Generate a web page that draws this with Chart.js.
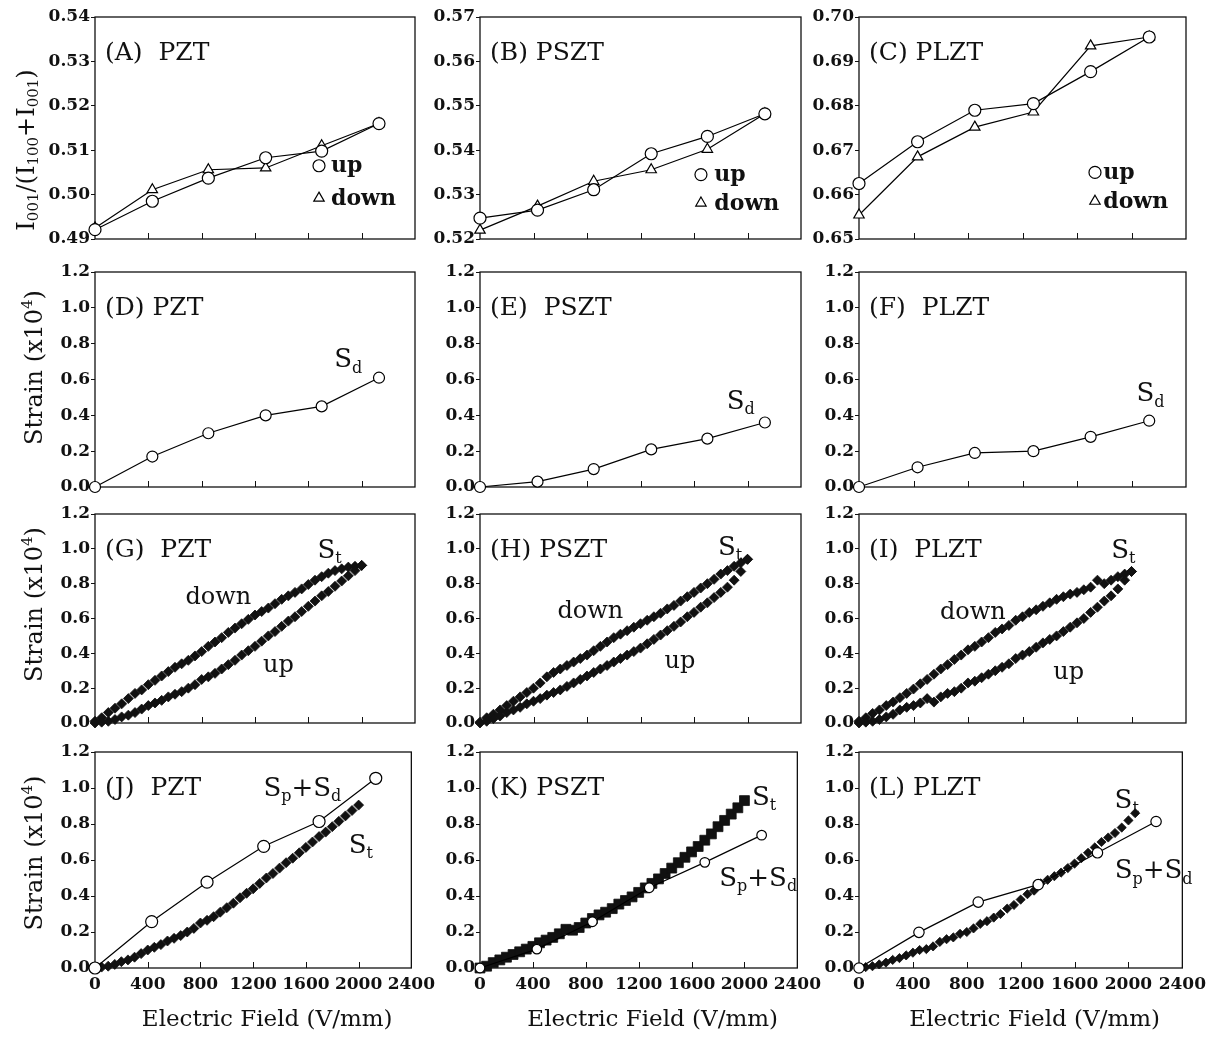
<!DOCTYPE html>
<html>
<head>
<meta charset="utf-8">
<script src="https://cdn.jsdelivr.net/npm/chart.js@4.4.1/dist/chart.umd.min.js"></script>
<style>
  html, body { margin: 0; padding: 0; background: #fff; }
  body { width: 1211px; height: 1043px; position: relative; overflow: hidden; }
  canvas { position: absolute; }
</style>
</head>
<body>
<script>
const SERIF = '"DejaVu Serif", "Liberation Serif", serif';

// ── Electric field values (V/mm) ─────────────────────────────────────────────
const FIELD   = [0, 430, 850, 1280, 1700, 2130];
const FIELD_L = [0, 445, 885, 1330, 1770, 2205];
const STEP_X = [0, 50, 100, 150, 200, 250, 300, 350, 400, 450,
                500, 550, 600, 650, 700, 750, 800, 850, 900, 950,
                1000, 1050, 1100, 1150, 1200, 1250, 1300, 1350, 1400, 1450,
                1500, 1550, 1600, 1650, 1700, 1750, 1800, 1850, 1900, 1950,
                2000];
const STEP_X_L = [0, 50, 100, 150, 200, 250, 300, 350, 400, 450,
                  500, 550, 600, 650, 700, 750, 800, 850, 900, 950,
                  1000, 1050, 1100, 1150, 1200, 1250, 1300, 1350, 1400, 1450,
                  1500, 1550, 1600, 1650, 1700, 1750, 1800, 1850, 1900, 1950,
                  2000, 2050];

// ── Row 1: I001/(I100+I001) ──────────────────────────────────────────────────
const A_UP   = [0.4921, 0.4985, 0.5037, 0.5083, 0.5098, 0.5160];
const A_DOWN = [0.4925, 0.5011, 0.5056, 0.5060, 0.5110, 0.5160];
const B_UP   = [0.5247, 0.5265, 0.5311, 0.5392, 0.5431, 0.5482];
const B_DOWN = [0.5220, 0.5274, 0.5330, 0.5356, 0.5402, 0.5482];
const C_UP   = [0.6625, 0.6719, 0.6790, 0.6805, 0.6877, 0.6955];
const C_DOWN = [0.6554, 0.6685, 0.6752, 0.6786, 0.6935, 0.6955];

// ── Row 2: domain strain S_d ─────────────────────────────────────────────────
const D_SD = [0, 0.17, 0.30, 0.40, 0.45, 0.61];
const E_SD = [0, 0.03, 0.10, 0.21, 0.27, 0.36];
const F_SD = [0, 0.11, 0.19, 0.20, 0.28, 0.37];

// ── Row 3: total strain loops S_t ────────────────────────────────────────────
const G_UP = [0.000, 0.005, 0.010, 0.020, 0.035, 0.045, 0.060, 0.080, 0.100, 0.115,
              0.130, 0.150, 0.165, 0.180, 0.200, 0.220, 0.250, 0.265, 0.285, 0.310,
              0.335, 0.360, 0.390, 0.415, 0.440, 0.470, 0.500, 0.525, 0.555, 0.585,
              0.610, 0.640, 0.670, 0.700, 0.730, 0.755, 0.785, 0.815, 0.845, 0.875,
              0.905];
const G_DOWN = [0.010, 0.030, 0.060, 0.085, 0.110, 0.140, 0.170, 0.190, 0.220, 0.245,
                0.270, 0.295, 0.320, 0.340, 0.360, 0.385, 0.410, 0.440, 0.465, 0.490,
                0.520, 0.545, 0.570, 0.595, 0.620, 0.640, 0.660, 0.685, 0.710, 0.730,
                0.750, 0.770, 0.795, 0.820, 0.840, 0.860, 0.875, 0.885, 0.895, 0.900,
                0.905];
const H_UP = [0.000, 0.010, 0.025, 0.040, 0.060, 0.075, 0.090, 0.110, 0.125, 0.140,
              0.160, 0.175, 0.190, 0.210, 0.230, 0.250, 0.270, 0.290, 0.310, 0.330,
              0.350, 0.370, 0.390, 0.410, 0.430, 0.455, 0.480, 0.505, 0.530, 0.555,
              0.580, 0.610, 0.635, 0.665, 0.690, 0.720, 0.750, 0.780, 0.820, 0.870,
              0.940];
const H_DOWN = [0.005, 0.030, 0.050, 0.075, 0.100, 0.125, 0.150, 0.175, 0.200, 0.230,
                0.265, 0.290, 0.310, 0.330, 0.350, 0.370, 0.390, 0.415, 0.440, 0.465,
                0.490, 0.510, 0.530, 0.550, 0.570, 0.590, 0.610, 0.630, 0.655, 0.675,
                0.700, 0.725, 0.750, 0.775, 0.800, 0.825, 0.855, 0.875, 0.900, 0.920,
                0.940];
const I_UP = [0.000, 0.005, 0.010, 0.020, 0.035, 0.050, 0.075, 0.090, 0.100, 0.115,
              0.140, 0.120, 0.150, 0.170, 0.180, 0.200, 0.230, 0.240, 0.260, 0.280,
              0.300, 0.320, 0.340, 0.370, 0.390, 0.410, 0.435, 0.460, 0.480, 0.500,
              0.525, 0.550, 0.575, 0.600, 0.635, 0.665, 0.700, 0.730, 0.770, 0.820,
              0.870];
const I_DOWN = [0.010, 0.030, 0.055, 0.075, 0.100, 0.120, 0.145, 0.170, 0.195, 0.225,
                0.250, 0.280, 0.310, 0.335, 0.365, 0.390, 0.420, 0.440, 0.465, 0.490,
                0.520, 0.540, 0.560, 0.590, 0.610, 0.635, 0.650, 0.670, 0.690, 0.710,
                0.725, 0.740, 0.750, 0.765, 0.780, 0.820, 0.800, 0.820, 0.840, 0.855,
                0.870];

// ── Row 4: S_p+S_d compared with S_t ─────────────────────────────────────────
const J_SPSD = [0, 0.258, 0.477, 0.676, 0.814, 1.054];
const K_SPSD = [0, 0.105, 0.257, 0.446, 0.587, 0.738];
const L_SPSD = [0, 0.198, 0.366, 0.463, 0.640, 0.814];
const K_ST = [0.000, 0.010, 0.030, 0.045, 0.060, 0.075, 0.090, 0.105, 0.120, 0.140,
              0.155, 0.170, 0.190, 0.215, 0.210, 0.225, 0.250, 0.275, 0.295, 0.310,
              0.330, 0.355, 0.375, 0.395, 0.420, 0.445, 0.470, 0.495, 0.525, 0.555,
              0.585, 0.615, 0.645, 0.675, 0.710, 0.745, 0.785, 0.820, 0.855, 0.890,
              0.930];
const L_ST = [0.000, 0.005, 0.010, 0.020, 0.030, 0.045, 0.055, 0.070, 0.085, 0.100,
              0.105, 0.120, 0.145, 0.160, 0.170, 0.190, 0.200, 0.220, 0.245, 0.260,
              0.280, 0.300, 0.330, 0.350, 0.380, 0.410, 0.430, 0.470, 0.490, 0.510,
              0.530, 0.555, 0.580, 0.610, 0.640, 0.670, 0.700, 0.725, 0.750, 0.780,
              0.820, 0.860];

// ── Layout (page pixels) ─────────────────────────────────────────────────────
const COLS = [
  { canvasLeft: 0,   plotLeft: 95,  plotRight: 415 },
  { canvasLeft: 420, plotLeft: 480, plotRight: 801 },
  { canvasLeft: 800, plotLeft: 859, plotRight: 1186 },
];
const ROWS = [
  { top: 17,  bottom: 239, hx: 12 },
  { top: 272, bottom: 487, hx: 12 },
  { top: 514, bottom: 723, hx: 12 },
  { top: 752, bottom: 968, hx: 66 },
];
const PAD_TOP = 12, PAD_RIGHT = 26;
const Y_TITLE_SHIFT = [22, -12, -14, -7];

// ── Series helpers ───────────────────────────────────────────────────────────
function pts(xs, ys) { return xs.map((x, i) => ({ x, y: ys[i] })); }

function openSeries(xs, ys, style, r) {
  return {
    data: pts(xs, ys), showLine: true, borderColor: '#000', borderWidth: 1.2,
    pointStyle: style, pointRadius: r, pointBackgroundColor: '#fff',
    pointBorderColor: '#000', pointBorderWidth: 1.2, clip: false,
  };
}
function solidSeries(xs, ys, style, r) {
  return {
    data: pts(xs, ys), showLine: false, pointStyle: style, pointRadius: r,
    pointBackgroundColor: '#111', pointBorderColor: '#111', pointBorderWidth: 0.8, clip: false,
  };
}

const SD    = [['S'], ['d', 'sub']];
const ST    = [['S'], ['t', 'sub']];
const SPSD  = [['S'], ['p', 'sub'], ['+S'], ['d', 'sub']];

// ── Panels ───────────────────────────────────────────────────────────────────
const PANELS = [
  { col: 0, row: 0, tag: '(A)  PZT', y: [0.49, 0.54, 0.01, 2],
    sets: [openSeries(FIELD, A_UP, 'circle', 6), openSeries(FIELD, A_DOWN, 'triangle', 6)],
    legend: { x: 1680, yUp: 0.5065, yDown: 0.4992, tx: 1770 } },
  { col: 1, row: 0, tag: '(B) PSZT', y: [0.52, 0.57, 0.01, 2],
    sets: [openSeries(FIELD, B_UP, 'circle', 6), openSeries(FIELD, B_DOWN, 'triangle', 6)],
    legend: { x: 1652, yUp: 0.5345, yDown: 0.5281, tx: 1752 } },
  { col: 2, row: 0, tag: '(C) PLZT', y: [0.65, 0.70, 0.01, 2],
    sets: [openSeries(FIELD, C_UP, 'circle', 6), openSeries(FIELD, C_DOWN, 'triangle', 6)],
    legend: { x: 1732, yUp: 0.665, yDown: 0.6585, tx: 1793 } },

  { col: 0, row: 1, tag: '(D) PZT', y: [0, 1.2, 0.2, 1],
    sets: [openSeries(FIELD, D_SD, 'circle', 5.5)],
    notes: [{ parts: SD, x: 1900, y: 0.72 }] },
  { col: 1, row: 1, tag: '(E)  PSZT', y: [0, 1.2, 0.2, 1],
    sets: [openSeries(FIELD, E_SD, 'circle', 5.5)],
    notes: [{ parts: SD, x: 1950, y: 0.49 }] },
  { col: 2, row: 1, tag: '(F)  PLZT', y: [0, 1.2, 0.2, 1],
    sets: [openSeries(FIELD, F_SD, 'circle', 5.5)],
    notes: [{ parts: SD, x: 2140, y: 0.53 }] },

  { col: 0, row: 2, tag: '(G)  PZT', y: [0, 1.2, 0.2, 1],
    sets: [solidSeries(STEP_X, G_UP, 'rectRot', 5), solidSeries(STEP_X, G_DOWN, 'rectRot', 5)],
    notes: [{ parts: ST, x: 1760, y: 1.0 },
            { parts: [['down']], x: 925, y: 0.73 }, { parts: [['up']], x: 1375, y: 0.34 }] },
  { col: 1, row: 2, tag: '(H) PSZT', y: [0, 1.2, 0.2, 1],
    sets: [solidSeries(STEP_X, H_UP, 'rectRot', 5), solidSeries(STEP_X, H_DOWN, 'rectRot', 5)],
    notes: [{ parts: ST, x: 1870, y: 1.02 },
            { parts: [['down']], x: 825, y: 0.655 }, { parts: [['up']], x: 1495, y: 0.367 }] },
  { col: 2, row: 2, tag: '(I)  PLZT', y: [0, 1.2, 0.2, 1],
    sets: [solidSeries(STEP_X, I_UP, 'rectRot', 5), solidSeries(STEP_X, I_DOWN, 'rectRot', 5)],
    notes: [{ parts: ST, x: 1940, y: 1.0 },
            { parts: [['down']], x: 836, y: 0.648 }, { parts: [['up']], x: 1539, y: 0.30 }] },

  { col: 0, row: 3, tag: '(J)  PZT', y: [0, 1.2, 0.2, 1],
    sets: [openSeries(FIELD, J_SPSD, 'circle', 6), solidSeries(STEP_X, G_UP, 'rectRot', 5)],
    notes: [{ parts: SPSD, x: 1573, y: 1.01 }, { parts: ST, x: 2017, y: 0.69 }] },
  { col: 1, row: 3, tag: '(K) PSZT', y: [0, 1.2, 0.2, 1],
    sets: [openSeries(FIELD, K_SPSD, 'circle', 4.8), solidSeries(STEP_X, K_ST, 'rect', 7)],
    notes: [{ parts: ST, x: 2148, y: 0.96 }, { parts: SPSD, x: 2104, y: 0.51 }] },
  { col: 2, row: 3, tag: '(L) PLZT', y: [0, 1.2, 0.2, 1],
    sets: [openSeries(FIELD_L, L_SPSD, 'circle', 5.2), solidSeries(STEP_X_L, L_ST, 'rectRot', 4.6)],
    notes: [{ parts: ST, x: 1987, y: 0.94 }, { parts: SPSD, x: 2187, y: 0.55 }] },
];

// ── Text helpers ─────────────────────────────────────────────────────────────
function drawRich(ctx, parts, cx, cy, size, weight) {
  const w0 = weight || 'normal';
  const fontFor = k => k ? `${w0} ${Math.round(size * 0.62)}px ${SERIF}` : `${w0} ${size}px ${SERIF}`;
  let width = 0;
  parts.forEach(([t, k]) => { ctx.font = fontFor(k); width += ctx.measureText(t).width; });
  let x = cx - width / 2;
  const base = cy + size * 0.36;
  ctx.textAlign = 'left';
  ctx.textBaseline = 'alphabetic';
  parts.forEach(([t, k]) => {
    ctx.font = fontFor(k);
    const dy = k === 'sub' ? size * 0.2 : k === 'sup' ? -size * 0.42 : 0;
    ctx.fillText(t, x, base + dy);
    x += ctx.measureText(t).width;
  });
}

function markerPath(ctx, style, x, y, r) {
  ctx.beginPath();
  if (style === 'triangle') {
    let a = 0;
    ctx.moveTo(x + Math.sin(a) * r, y - Math.cos(a) * r);
    a += 2 * Math.PI / 3;
    ctx.lineTo(x + Math.sin(a) * r, y - Math.cos(a) * r);
    a += 2 * Math.PI / 3;
    ctx.lineTo(x + Math.sin(a) * r, y - Math.cos(a) * r);
    ctx.closePath();
  } else {
    ctx.arc(x, y, r, 0, Math.PI * 2);
  }
}

// ── Per-panel plugin: frame, inward ticks, labels, titles ────────────────────
function panelPlugin(p) {
  return {
    id: 'panelDecor',
    beforeDatasetsDraw(chart) {
      const { ctx, chartArea: a, scales: { x } } = chart;
      ctx.save();
      ctx.strokeStyle = '#111';
      ctx.lineWidth = 1.3;
      ctx.strokeRect(a.left, a.top, a.right - a.left, a.bottom - a.top);
      ctx.lineWidth = 1;
      [400, 800, 1200, 1600, 2000].forEach(v => {
        const px = Math.round(x.getPixelForValue(v)) + 0.5;
        ctx.beginPath();
        ctx.moveTo(px, a.bottom);
        ctx.lineTo(px, a.bottom - 6);
        ctx.stroke();
      });
      ctx.restore();
    },
    afterDatasetsDraw(chart) {
      const { ctx, chartArea: a, scales: { x, y } } = chart;
      ctx.save();
      ctx.fillStyle = '#111';

      // panel tag
      ctx.font = `25px ${SERIF}`;
      ctx.textAlign = 'left';
      ctx.textBaseline = 'middle';
      ctx.fillText(p.tag, a.left + 10, a.top + 36);

      // curve annotations
      (p.notes || []).forEach(n => {
        const size = n.parts.length === 1 ? 24 : 26;
        drawRich(ctx, n.parts, x.getPixelForValue(n.x), y.getPixelForValue(n.y), size);
      });

      // up / down key in the top row
      if (p.legend) {
        const L = p.legend;
        const mx = x.getPixelForValue(L.x);
        ctx.strokeStyle = '#000';
        ctx.lineWidth = 1.2;
        ctx.fillStyle = '#fff';
        markerPath(ctx, 'circle', mx, y.getPixelForValue(L.yUp), 6);
        ctx.fill(); ctx.stroke();
        markerPath(ctx, 'triangle', mx, y.getPixelForValue(L.yDown), 6);
        ctx.fill(); ctx.stroke();
        ctx.fillStyle = '#111';
        ctx.font = `bold 22px ${SERIF}`;
        ctx.textAlign = 'left';
        ctx.textBaseline = 'middle';
        ctx.fillText('up', x.getPixelForValue(L.tx), y.getPixelForValue(L.yUp) + 1);
        ctx.fillText('down', x.getPixelForValue(L.tx), y.getPixelForValue(L.yDown) + 1);
      }

      // axis titles
      if (p.row === 3) {
        ctx.font = `23px ${SERIF}`;
        ctx.textAlign = 'center';
        ctx.textBaseline = 'middle';
        ctx.fillText('Electric Field (V/mm)', (a.left + a.right) / 2 + 14, a.bottom + 52);
      }
      if (p.col === 0) {
        const cy = (a.top + a.bottom) / 2 + Y_TITLE_SHIFT[p.row];
        ctx.translate(p.row === 0 ? 25 : 33, cy);
        ctx.rotate(-Math.PI / 2);
        if (p.row === 0) {
          drawRich(ctx, [['I'], ['001', 'sub'], ['/(I'], ['100', 'sub'], ['+I'], ['001', 'sub'], [')']], 0, 0, 24);
        } else {
          drawRich(ctx, [['Strain (x10'], ['4', 'sup'], [')']], 0, 0, 24);
        }
      }
      ctx.restore();
    },
  };
}

// ── Build charts ─────────────────────────────────────────────────────────────
PANELS.forEach(p => {
  const c = COLS[p.col], r = ROWS[p.row];
  const wy = c.plotLeft - c.canvasLeft;
  const canvas = document.createElement('canvas');
  const w = c.plotRight - c.canvasLeft + PAD_RIGHT;
  const h = PAD_TOP + (r.bottom - r.top) + r.hx;
  canvas.width = w; canvas.height = h;
  canvas.style.left = c.canvasLeft + 'px';
  canvas.style.top = (r.top - PAD_TOP) + 'px';
  canvas.style.width = w + 'px';
  canvas.style.height = h + 'px';
  document.body.appendChild(canvas);

  const [yMin, yMax, yStep, dec] = p.y;
  new Chart(canvas.getContext('2d'), {
    type: 'scatter',
    data: { datasets: p.sets },
    options: {
      responsive: false, animation: false, devicePixelRatio: 1,
      layout: { padding: { top: PAD_TOP, right: PAD_RIGHT, left: 0, bottom: 0 } },
      plugins: { legend: { display: false }, tooltip: { enabled: false } },
      scales: {
        x: {
          type: 'linear', min: 0, max: 2400,
          ticks: {
            stepSize: 400, display: p.row === 3, autoSkip: false, maxRotation: 0,
            color: '#111', padding: 6,
            font: { family: SERIF, size: 17, weight: 'bold' },
            callback: v => String(Math.round(v)),
          },
          grid: { display: false, drawTicks: false },
          border: { display: false },
          afterFit: s => { s.height = r.hx; },
        },
        y: {
          type: 'linear', min: yMin, max: yMax,
          ticks: {
            stepSize: yStep, color: '#111', padding: 1,
            font: { family: SERIF, size: 17, weight: 'bold' },
            callback: v => Number(v).toFixed(dec),
          },
          grid: { drawOnChartArea: false, drawTicks: true, tickLength: 4, color: '#111' },
          border: { display: false },
          afterFit: s => { s.width = wy; },
        },
      },
    },
    plugins: [panelPlugin(p)],
  });
});
</script>
</body>
</html>
